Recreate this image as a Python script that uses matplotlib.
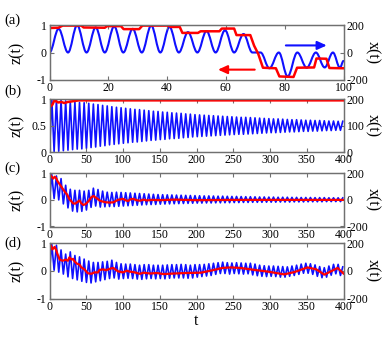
import numpy as np
import matplotlib
matplotlib.use("Agg")
import matplotlib.pyplot as plt
from matplotlib.path import Path
from matplotlib.patches import PathPatch

plt.rcParams['font.family'] = ['Liberation Serif', 'DejaVu Serif']
plt.rcParams['axes.unicode_minus'] = False

# ---------------- data ----------------
# (a) blue x(t): extrema times and values (right axis)
a_blue_t = [0, 3.1, 6.3, 9.4, 12.6, 15.7, 18.8, 22.0, 25.1, 28.3, 31.4, 34.6, 37.7, 40.8,
            44.0, 47.1, 50.3, 53.4, 56.5, 59.7, 62.8, 66.0, 69.0, 71.8, 74.8, 78.0, 81.0,
            84.3, 87.5, 90.6, 93.6, 96.4, 98.8, 100]
a_blue_x = [0, 174, 0, 200, 0, 184, 0, 192, 0, 174, 0, 198, 0, 188,
            0, 150, 0, 158, 0, 164, 0, 136, 0, 0, -116, 0, -176,
            0, -112, 0, -110, 0, -112, -62]
# (a) red z(t)
a_red_t = [0, 3, 4.5, 10.8, 11.6, 18.8, 19.6, 24.3, 25.2, 30.5, 31.6, 40.5, 41.3, 44.3, 45.2,
           50.5, 51.4, 57.8, 58.6, 62.8, 63.6, 68.3, 69.6, 71.0, 72.6, 77.0, 78.2, 83.0, 84.2,
           90.0, 90.8, 94.2, 95.2, 100]
a_red_z = [0.9, 0.91, 0.99, 0.99, 0.92, 0.91, 0.97, 0.97, 0.86, 0.86, 0.99, 0.99, 0.94, 0.94, 0.72,
           0.72, 0.78, 0.78, 0.88, 0.88, 0.64, 0.64, 0.25, -0.05, -0.56, -0.58, -0.88, -0.9, -0.56,
           -0.55, -0.22, -0.23, -0.57, -0.58]

half_period = 3.1416  # spacing between successive extrema in (b)-(d)

b_peaks = [199, 197, 196, 194, 192, 190, 188, 187, 185, 182, 180, 177, 175, 172, 170, 168,
           166, 164, 162, 161, 159, 157, 155, 154, 152, 151, 149, 148, 147, 145, 144, 142,
           141, 140, 139, 138, 137, 136, 135, 134, 133, 132, 132, 131, 130, 129, 128, 127,
           126, 126, 125, 124, 123, 123, 122, 121, 121, 120, 120, 119, 118, 118, 117, 117]
b_troughs = [0, 3, 4, 6, 8, 10, 12, 13, 15, 18, 20, 23, 25, 28, 30, 32,
             34, 36, 38, 39, 41, 43, 45, 46, 48, 49, 51, 52, 53, 55, 56, 58,
             59, 60, 61, 62, 63, 64, 65, 66, 67, 68, 68, 69, 70, 71, 72, 73,
             74, 74, 75, 76, 77, 77, 78, 79, 79, 80, 80, 81, 82, 82, 83, 83]
b_red_t = [0, 2, 4, 6, 7.5, 9, 12, 16, 20, 25, 30, 35, 40, 400]
b_red_z = [0.93, 0.87, 0.9, 0.96, 1.0, 0.96, 0.94, 0.95, 0.93, 0.95, 0.96, 0.97, 0.98, 0.98]

c_peaks = [190, 180, 160, 110, 80, 72, 72, 66, 72, 88, 78, 66, 58, 56, 58, 56,
           54, 52, 50, 48, 46, 44, 42, 40, 39, 38, 37, 36, 35, 34, 33, 32,
           31, 30, 30, 29, 28, 28, 27, 26, 26, 25, 24, 24, 23, 22, 22, 21,
           21, 20, 20, 20, 19, 19, 18, 18, 18, 17, 17, 17, 16, 16, 16, 15]
c_troughs = [0, 10, 0, -30, -60, -84, -90, -86, -76, -56, -46, -54, -52, -50, -50, -48,
             -46, -44, -42, -40, -38, -36, -35, -34, -32, -31, -30, -29, -28, -27, -26, -25,
             -24, -24, -23, -23, -22, -22, -21, -21, -20, -20, -19, -19, -18, -18, -18, -17,
             -17, -17, -16, -16, -16, -15, -15, -15, -14, -14, -14, -14, -13, -13, -13, -13]
c_red_t = [0, 2, 5, 7, 9, 11, 16, 21, 24, 27, 30, 32, 35, 39, 41, 43, 46, 49, 53, 57,
           60, 62, 65, 68, 72, 77, 82, 87, 93, 100, 104, 107, 110, 114, 118, 123, 128, 132, 140, 150,
           170, 200, 250, 300, 350, 400]
c_red_z = [0.97, 0.9, 0.8, 0.87, 0.82, 0.7, 0.5, 0.3, 0.2, 0.03, -0.06, -0.13, -0.14, -0.06, -0.02,
           -0.12, -0.19, -0.16, -0.05, 0.1, 0.15, 0.1, 0.05, -0.02, -0.06, -0.09, -0.1, -0.09, 0.0, 0.04,
           -0.02, -0.04, 0.02, 0.04, -0.01, -0.03, 0.01, -0.02, 0.0, -0.01, 0.01, -0.01, 0.0, 0.0, 0.0, 0.0]

d_peaks = [190, 184, 150, 120, 136, 110, 100, 84, 70, 60, 60, 64, 68, 76, 60, 50,
           48, 48, 44, 40, 44, 44, 40, 40, 40, 42, 44, 44, 46, 44, 40, 44,
           44, 46, 50, 54, 58, 62, 58, 56, 58, 56, 54, 54, 48, 40, 36, 34,
           34, 32, 30, 28, 34, 40, 48, 54, 50, 42, 30, 22, 34, 46, 46, 28]
d_troughs = [0, 4, -10, -24, -44, -56, -66, -76, -84, -88, -80, -72, -64, -56, -52, -60,
             -56, -54, -56, -60, -62, -58, -56, -58, -56, -58, -54, -52, -52, -52, -54, -52,
             -46, -42, -38, -34, -26, -20, -20, -24, -20, -22, -24, -22, -30, -36, -40, -42,
             -40, -42, -46, -46, -40, -34, -26, -18, -18, -26, -40, -50, -46, -32, -22, -34]
d_red_t = [0, 2, 4, 7, 9, 11, 14, 18, 22, 25, 27, 30, 32, 34, 37, 41, 43, 48, 52, 57,
           61, 66, 68, 73, 77, 83, 87, 93, 100, 105, 109, 116, 123, 128, 137, 146, 155, 169, 187, 206,
           224, 235, 247, 260, 279, 297, 319, 333, 351, 363, 374, 392, 400]
d_red_z = [0.95, 0.9, 0.77, 0.86, 0.75, 0.59, 0.4, 0.36, 0.4, 0.36, 0.48, 0.4, 0.43, 0.34, 0.26,
           0.22, 0.13, 0.04, -0.09, -0.11, -0.06, -0.06, 0.03, 0.05, 0.02, 0.08, 0.1, -0.02, -0.06, 0.0,
           -0.03, -0.06, -0.11, -0.07, -0.1, -0.08, -0.12, -0.1, -0.08, -0.07, 0.03, 0.1, 0.12, 0.1,
           0.03, -0.03, -0.13, -0.05, 0.12, 0.05, -0.14, 0.1, -0.1]

BLUE = '#1010ff'
RED = '#ff0000'
SPINE = '#707070'

fig = plt.figure(figsize=(3.82, 3.37), dpi=100)
W, H = 382.0, 337.0


def smooth(ax, t, v, **kw):
    verts = [(t[0], v[0])]
    codes = [Path.MOVETO]
    for i in range(1, len(t)):
        d = 0.364 * (t[i] - t[i - 1])
        verts += [(t[i - 1] + d, v[i - 1]), (t[i] - d, v[i]), (t[i], v[i])]
        codes += [Path.CURVE4] * 3
    ax.add_patch(PathPatch(Path(verts, codes), fill=False, capstyle='round',
                           joinstyle='round', **kw))


def interleave(troughs, peaks):
    seq = []
    for tr, pk in zip(troughs, peaks):
        seq += [tr, pk]
    return np.arange(len(seq)) * half_period, np.array(seq)


def make(top_px, bot_px, xmax, xstep, zlim, zticks, zlabels, xlim2, xt2, xl2, panel, panel_y):
    ax = fig.add_axes([49.5 / W, 1 - bot_px / H, 294 / W, (bot_px - top_px) / H])
    ax2 = ax.twinx()
    ax.set_zorder(ax2.get_zorder() + 1)
    ax.patch.set_visible(False)
    ax.set_xlim(0, xmax)
    ax.set_xticks(np.arange(0, xmax + 1, xstep))
    ax.set_ylim(*zlim)
    ax.set_yticks(zticks)
    ax.set_yticklabels(zlabels)
    ax2.set_ylim(*xlim2)
    ax2.set_yticks(xt2)
    ax2.set_yticklabels(xl2)
    for a in (ax, ax2):
        for s in a.spines.values():
            s.set_color(SPINE)
            s.set_linewidth(0.9)
        a.tick_params(direction='in', length=3, width=0.8, color=SPINE,
                      labelcolor='black', labelsize=8.5, pad=2)
    ax.tick_params(axis='x', top=True, pad=1.5)
    ax.tick_params(axis='y', right=False)
    ax2.tick_params(axis='y', pad=2.5)
    ax.set_ylabel('z(t)', fontsize=11.5)
    ax.yaxis.set_label_coords(-0.085, 0.5)
    ax2.set_ylabel('x(t)', fontsize=11.5, rotation=270, va='center')
    ax2.yaxis.set_label_coords(1.10, 0.5)
    fig.text(4 / W, 1 - panel_y / H, panel, fontsize=10.5, va='center', ha='left')
    return ax, ax2


# (a)
ax, ax2 = make(25.3, 79.7, 100, 20, (-1, 1), [-1, 0, 1], ['-1', '0', '1'],
               (-200, 200), [-200, 0, 200], ['-200', '0', '200'], '(a)', 20)
smooth(ax2, a_blue_t, a_blue_x, edgecolor=BLUE, lw=1.5)
ax.plot(a_red_t, a_red_z, color=RED, lw=1.8)
ax.annotate('', xy=(94.3, 0.26), xytext=(80.4, 0.26),
            arrowprops=dict(arrowstyle='-|>,head_length=0.55,head_width=0.25',
                            color=BLUE, lw=1.5, shrinkA=0, shrinkB=0))
ax.annotate('', xy=(57.3, -0.63), xytext=(69.8, -0.63),
            arrowprops=dict(arrowstyle='-|>,head_length=0.55,head_width=0.25',
                            color=RED, lw=1.5, shrinkA=0, shrinkB=0))

# (b)
ax, ax2 = make(99.3, 152.3, 400, 50, (0, 1), [0, 0.5, 1], ['0', '0.5', '1'],
               (0, 200), [0, 100, 200], ['0', '100', '200'], '(b)', 91.5)
tb, vb = interleave(b_troughs, b_peaks)
ax2.plot(tb, vb, color=BLUE, lw=1.2)
ax.plot(b_red_t, b_red_z, color=RED, lw=1.8)

# (c)
ax, ax2 = make(173.3, 226.5, 400, 50, (-1, 1), [-1, 0, 1], ['-1', '0', '1'],
               (-200, 200), [-200, 0, 200], ['-200', '0', '200'], '(c)', 168.5)
tc, vc = interleave(c_troughs, c_peaks)
ax2.plot(tc, vc, color=BLUE, lw=1.2)
ax.plot(c_red_t, c_red_z, color=RED, lw=1.6)

# (d)
ax, ax2 = make(243.0, 298.5, 400, 50, (-1, 1), [-1, 0, 1], ['-1', '0', '1'],
               (-200, 200), [-200, 0, 200], ['-200', '0', '200'], '(d)', 243.5)
td, vd = interleave(d_troughs, d_peaks)
ax2.plot(td, vd, color=BLUE, lw=1.2)
ax.plot(d_red_t, d_red_z, color=RED, lw=1.6)
ax.set_xlabel('t', fontsize=11.5, labelpad=0)

fig.savefig('out.png', dpi=100)
